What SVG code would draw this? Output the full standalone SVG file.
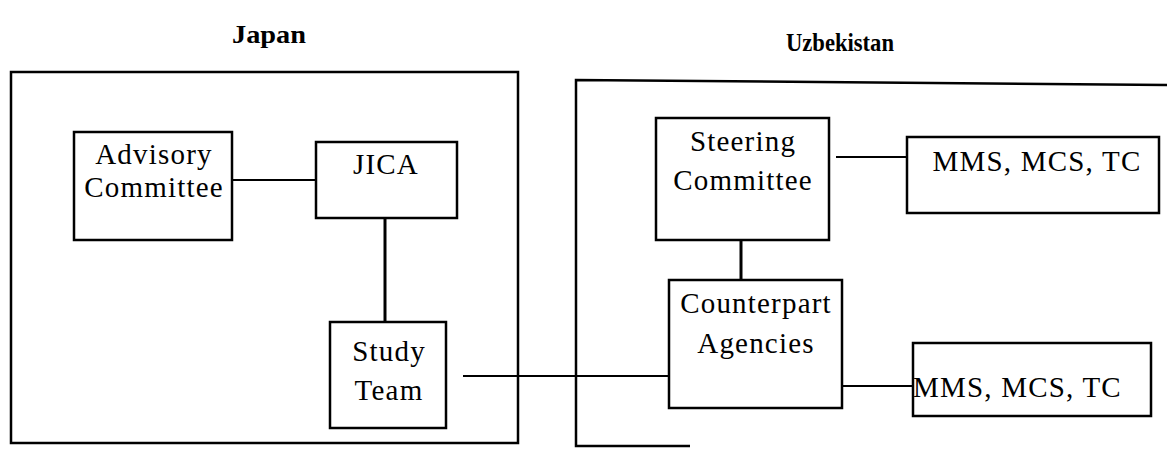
<svg xmlns="http://www.w3.org/2000/svg" width="1167" height="451" viewBox="0 0 1167 451">
<style>
.frame{fill:none;stroke:#000;stroke-width:2.5}
.box{fill:#fff;stroke:#000;stroke-width:2.5}
.conn{stroke:#000;stroke-width:1.8;fill:none}
.thick{stroke:#000;stroke-width:3;fill:none}
.t{font-family:"Liberation Serif","Times New Roman",serif;font-size:29px;fill:#000;text-anchor:middle;letter-spacing:1.2px}
.title{font-family:"Liberation Serif","Times New Roman",serif;font-size:26px;font-weight:bold;fill:#000}
</style>
<rect width="1167" height="451" fill="#fff"/>
<g id="titles">
<text class="title" x="232" y="43" textLength="74" lengthAdjust="spacingAndGlyphs">Japan</text>
<text class="title" x="786" y="51" textLength="108" lengthAdjust="spacingAndGlyphs">Uzbekistan</text>
</g>
<g id="japan-frame">
<rect class="frame" x="11" y="72" width="507" height="371"/>
</g>
<g id="uzbekistan-frame">
<polyline class="frame" points="1167,85 576,80 576,446 690,446"/>
</g>
<g id="connectors">
<line class="conn" x1="232" y1="180" x2="316" y2="180"/>
<line class="thick" x1="385" y1="215" x2="385" y2="322"/>
<line class="conn" x1="463" y1="376" x2="669" y2="376"/>
<line class="conn" x1="836" y1="157" x2="907" y2="157"/>
<line class="thick" x1="741" y1="236" x2="741" y2="282"/>
<line class="conn" x1="842" y1="386" x2="913" y2="386"/>
</g>
<g id="advisory-committee">
<rect class="box" x="74" y="132" width="158" height="108"/>
<text class="t" x="154" y="164">Advisory</text>
<text class="t" x="154" y="197">Committee</text>
</g>
<g id="jica">
<rect class="box" x="316" y="142" width="141" height="76"/>
<text class="t" x="386" y="174">JICA</text>
</g>
<g id="study-team">
<rect class="box" x="330" y="322" width="116" height="106"/>
<text class="t" x="389" y="361">Study</text>
<text class="t" x="389" y="400">Team</text>
</g>
<g id="steering-committee">
<rect class="box" x="656" y="118" width="173" height="122"/>
<text class="t" x="743" y="151">Steering</text>
<text class="t" x="743" y="190">Committee</text>
</g>
<g id="mms-top">
<rect class="box" x="907" y="137" width="252" height="76"/>
<text class="t" x="1037" y="171">MMS, MCS, TC</text>
</g>
<g id="counterpart-agencies">
<rect class="box" x="669" y="280" width="173" height="128"/>
<text class="t" x="756" y="313">Counterpart</text>
<text class="t" x="756" y="353">Agencies</text>
</g>
<g id="mms-bottom">
<rect class="box" x="913" y="343" width="238" height="73"/>
<text class="t" x="913" y="397" style="text-anchor:start">MMS, MCS, TC</text>
</g>
</svg>
